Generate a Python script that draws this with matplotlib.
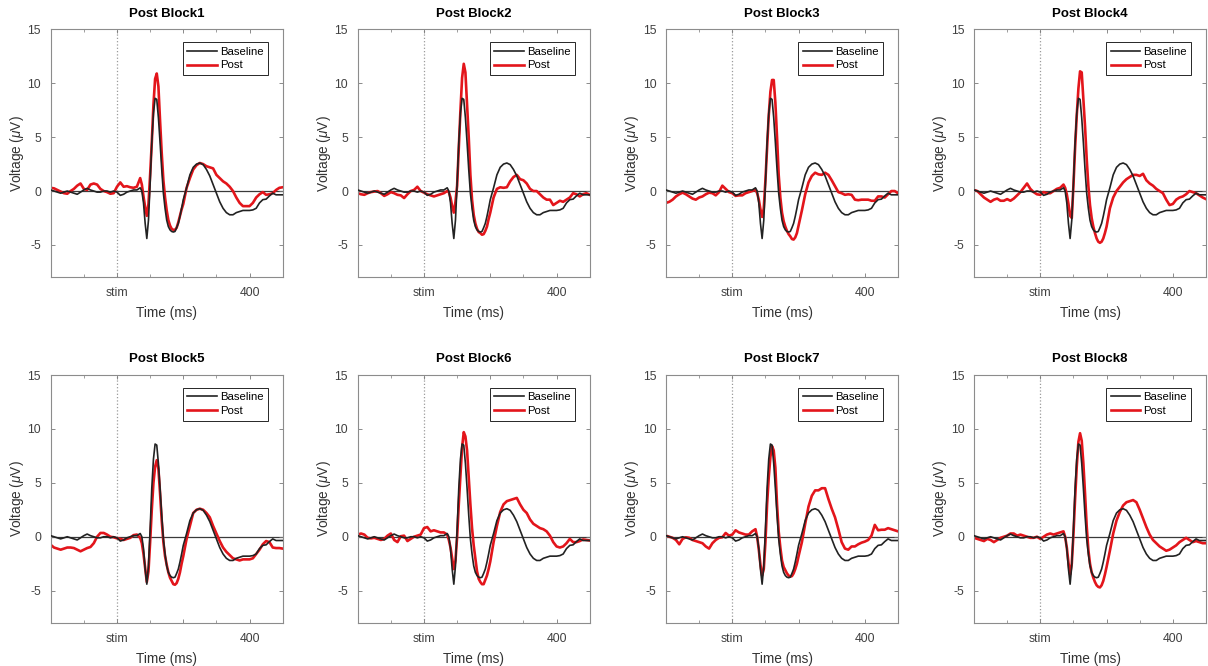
import numpy as np
from matplotlib import pyplot as plt
from matplotlib.ticker import FixedLocator, MultipleLocator

plt.rcParams['font.family'] = ['Liberation Sans', 'DejaVu Sans']
plt.rcParams['mathtext.fontset'] = 'custom'
plt.rcParams['mathtext.rm'] = 'Liberation Sans'
plt.rcParams['mathtext.it'] = 'Liberation Sans:italic'
plt.rcParams['axes.unicode_minus'] = False

# time grid (ms): 10 ms steps, 5 ms steps around the main response
time_ms = np.concatenate([np.arange(-200, 71, 10), np.arange(75, 196, 5), np.arange(200, 501, 10)])

baseline = [
    0.1, 0.0, -0.1, -0.2, -0.1, 0.0, -0.1, -0.2, -0.3, -0.1, 0.1, 0.25, 0.1, 0.0,
    -0.1, -0.1, 0.0, 0.0, -0.1, 0.0, -0.1, -0.4, -0.3, -0.1, 0.0, 0.1, 0.1, 0.3,
    0.0, -1.1, -3.0, -4.4, -2.7, 0.7, 4.5, 7.2, 8.6, 8.5, 6.8, 4.5, 2.0, -0.2,
    -1.6, -2.7, -3.3, -3.6, -3.75, -3.8, -3.75, -3.4, -3.0, -2.35, -1.6,
    -0.8, 0.3, 1.5, 2.2, 2.5, 2.6, 2.45, 2.0, 1.4, 0.6, -0.2, -1.0, -1.6, -2.0,
    -2.2, -2.2, -2.0, -1.9, -1.8, -1.8, -1.8, -1.75, -1.6, -1.1, -0.8, -0.75,
    -0.45, -0.2, -0.35, -0.35, -0.35,
]

post_block1 = [
    0.3, 0.25, 0.1, -0.05, -0.2, -0.25, 0.0, 0.2, 0.5, 0.7, 0.2, 0.1, 0.6, 0.7,
    0.6, 0.2, 0.0, -0.1, -0.25, -0.2, 0.4, 0.8, 0.4, 0.45, 0.35, 0.3, 0.4, 1.2,
    0.6, -0.5, -1.5, -2.3, -1.2, 1.5, 4.5, 8.0, 10.4, 10.9, 9.7, 6.5, 3.5, 1.0,
    -0.6, -1.8, -2.7, -3.2, -3.5, -3.6, -3.6, -3.4, -2.9, -2.3, -1.7,
    -1.2, 0.3, 1.2, 2.0, 2.4, 2.6, 2.5, 2.3, 2.2, 2.1, 1.5, 1.2, 0.9, 0.7,
    0.4, 0.0, -0.6, -1.1, -1.4, -1.4, -1.4, -1.1, -0.6, -0.3, -0.1, -0.35,
    -0.3, -0.2, 0.1, 0.3, 0.35,
]

post_block2 = [
    -0.2, -0.3, -0.35, -0.2, -0.1, -0.05, 0.0, -0.2, -0.45, -0.3, -0.1, -0.2, -0.35, -0.4,
    -0.65, -0.3, 0.0, 0.1, 0.4, 0.0, -0.15, -0.3, -0.4, -0.5, -0.4, -0.3, -0.2, 0.0,
    -0.1, -0.6, -1.4, -2.0, -1.0, 0.5, 4.0, 7.5, 10.5, 11.8, 11.0, 8.0, 5.0, 1.5,
    -0.8, -2.2, -3.0, -3.5, -3.8, -3.9, -4.05, -4.0, -3.7, -3.3, -2.6,
    -2.0, -0.6, 0.2, 0.35, 0.3, 0.35, 0.9, 1.3, 1.5, 1.1, 1.0, 0.7, 0.2, 0.0,
    0.0, -0.3, -0.6, -0.8, -0.8, -1.3, -1.1, -0.9, -1.0, -0.8, -0.6, -0.2,
    -0.3, -0.5, -0.3, -0.2, -0.35,
]

post_block3 = [
    -1.1, -1.0, -0.8, -0.5, -0.3, -0.15, -0.3, -0.5, -0.7, -0.8, -0.6, -0.5, -0.3, -0.15,
    -0.2, -0.4, -0.1, 0.5, 0.2, -0.1, -0.2, -0.45, -0.4, -0.4, -0.2, -0.1, 0.0, 0.15,
    -0.2, -0.8, -1.7, -2.4, -1.6, 1.0, 4.0, 7.0, 9.2, 10.3, 10.3, 8.2, 5.0, 1.5,
    -0.6, -2.0, -2.8, -3.3, -3.7, -4.0, -4.2, -4.45, -4.5, -4.3, -3.9,
    -3.2, -1.8, -0.3, 0.8, 1.4, 1.7, 1.55, 1.5, 1.7, 1.5, 1.0, 0.45, -0.1, -0.2,
    -0.35, -0.3, -0.35, -0.8, -0.85, -0.8, -0.8, -0.8, -0.9, -0.9, -0.5, -0.5,
    -0.6, -0.3, 0.0, 0.0, -0.2,
]

post_block4 = [
    0.1, 0.0, -0.3, -0.6, -0.8, -1.0, -0.8, -0.7, -0.9, -0.9, -0.75, -0.9, -0.7, -0.4,
    -0.1, 0.3, 0.7, 0.2, -0.1, -0.3, -0.35, -0.1, -0.2, -0.2, 0.0, 0.2, 0.3, 0.6,
    0.3, -0.3, -1.2, -2.3, -2.5, 0.5, 4.0, 7.0, 9.5, 11.1, 11.0, 8.5, 6.0, 3.0,
    0.5, -1.3, -2.5, -3.3, -3.9, -4.4, -4.7, -4.8, -4.7, -4.4, -3.9,
    -3.3, -1.6, -0.6, 0.0, 0.4, 0.8, 1.1, 1.3, 1.5, 1.5, 1.4, 1.6, 1.0, 0.7,
    0.5, 0.2, 0.0, -0.2, -0.8, -1.3, -1.2, -0.8, -0.6, -0.5, -0.3, 0.0,
    -0.1, -0.2, -0.4, -0.6, -0.75,
]

post_block5 = [
    -0.75, -1.0, -1.1, -1.2, -1.1, -1.0, -1.0, -1.05, -1.2, -1.35, -1.2, -1.05, -0.95, -0.6,
    0.0, 0.35, 0.35, 0.2, 0.0, -0.05, -0.15, -0.2, -0.3, -0.2, -0.1, 0.15, 0.2, -0.1,
    -0.6, -1.6, -2.9, -4.2, -3.2, -0.5, 2.5, 5.0, 6.5, 7.1, 6.3, 4.0, 1.5, -0.5,
    -1.8, -2.6, -3.3, -3.8, -4.1, -4.4, -4.45, -4.3, -3.9, -3.3, -2.5,
    -1.8, -0.2, 1.0, 2.2, 2.5, 2.6, 2.5, 2.2, 1.8, 1.0, 0.3, -0.4, -1.0, -1.4,
    -1.7, -2.0, -2.1, -2.2, -2.1, -2.1, -2.1, -2.0, -1.6, -1.2, -0.7, -0.4,
    -0.5, -1.0, -1.05, -1.05, -1.1,
]

post_block6 = [
    0.2, 0.3, 0.2, -0.1, -0.15, -0.1, -0.2, -0.3, -0.2, 0.1, 0.3, -0.3, -0.5, 0.05,
    0.1, -0.4, -0.2, 0.0, 0.1, 0.2, 0.8, 0.9, 0.5, 0.6, 0.5, 0.4, 0.4, 0.2,
    -0.3, -1.0, -2.0, -3.0, -2.2, 0.0, 3.0, 5.7, 8.3, 9.7, 9.3, 8.0, 5.5, 3.0,
    0.8, -0.8, -2.0, -3.2, -3.9, -4.2, -4.4, -4.4, -4.0, -3.6, -3.0,
    -2.3, -0.5, 1.0, 2.3, 3.0, 3.3, 3.4, 3.5, 3.6, 3.0, 2.5, 2.2, 1.6, 1.2,
    1.0, 0.8, 0.7, 0.5, 0.1, -0.5, -0.9, -1.0, -0.9, -0.6, -0.2, -0.5,
    -0.5, -0.4, -0.25, -0.3, -0.35,
]

post_block7 = [
    0.1, 0.0, -0.1, -0.3, -0.7, -0.2, -0.05, -0.1, -0.3, -0.4, -0.5, -0.6, -0.9, -1.1,
    -0.6, -0.3, -0.1, -0.05, 0.35, 0.1, 0.2, 0.6, 0.4, 0.3, 0.2, 0.2, 0.5, 0.7,
    0.0, -1.2, -2.6, -3.6, -3.0, -0.5, 3.0, 5.5, 7.4, 8.4, 8.0, 6.4, 3.0, 0.5,
    -1.0, -2.2, -2.8, -3.1, -3.4, -3.6, -3.7, -3.65, -3.4, -3.0, -2.5,
    -1.8, -0.5, 1.2, 2.8, 3.8, 4.3, 4.3, 4.5, 4.5, 3.5, 2.6, 1.8, 0.7, -0.5,
    -1.1, -1.2, -0.9, -0.9, -0.7, -0.55, -0.45, -0.3, 0.1, 1.1, 0.6, 0.65,
    0.65, 0.8, 0.7, 0.6, 0.5,
]

post_block8 = [
    -0.1, -0.2, -0.3, -0.4, -0.2, -0.3, -0.5, -0.3, -0.1, 0.0, 0.1, 0.3, 0.3, 0.1,
    0.2, 0.1, 0.0, -0.1, -0.1, 0.0, -0.2, 0.0, 0.2, 0.3, 0.2, 0.3, 0.4, 0.5,
    0.0, -1.0, -2.4, -3.5, -2.5, 0.2, 3.5, 6.5, 8.8, 9.6, 8.9, 6.8, 4.0, 1.0,
    -1.2, -2.5, -3.3, -3.8, -4.2, -4.5, -4.65, -4.7, -4.5, -4.1, -3.5,
    -2.8, -1.3, 0.3, 1.5, 2.3, 2.9, 3.2, 3.3, 3.4, 3.2, 2.5, 1.7, 0.9, 0.2,
    -0.3, -0.6, -0.9, -1.1, -1.3, -1.2, -1.0, -0.8, -0.5, -0.3, -0.1, -0.3,
    -0.5, -0.4, -0.5, -0.6, -0.6,
]

post_blocks = [post_block1, post_block2, post_block3, post_block4,
               post_block5, post_block6, post_block7, post_block8]
titles = ["Post Block%d" % (i + 1) for i in range(8)]

xtick_pos = [-200, 0, 200, 400]
xtick_labels = ["", "stim", "", "400"]
ytick_pos = [-5, 0, 5, 10, 15]

col_left = [50.7, 357.7, 666, 974]
row_top = [29.3, 375]
ax_w, ax_h = 232, 248
W, H = 1208, 666

fig = plt.figure(figsize=(W / 100, H / 100), dpi=100)

for i, post in enumerate(post_blocks):
    r, c = divmod(i, 4)
    ax = fig.add_axes([col_left[c] / W, (H - row_top[r] - ax_h) / H, ax_w / W, ax_h / H])

    ax.axhline(0, color="#3a3a3a", lw=0.9, zorder=1)
    ax.axvline(0, color="#9a9a9a", lw=0.9, ls=":", zorder=1)
    ax.plot(time_ms, baseline, color="#222222", lw=1.2, label="Baseline", zorder=3)
    ax.plot(time_ms, post, color="#e3151b", lw=1.9, label="Post", zorder=2)

    ax.set_xlim(-200, 500)
    ax.set_ylim(-8, 15)
    ax.xaxis.set_major_locator(FixedLocator(xtick_pos))
    ax.set_xticklabels(xtick_labels)
    ax.xaxis.set_minor_locator(MultipleLocator(100))
    ax.set_yticks(ytick_pos)
    ax.tick_params(which="both", direction="in", top=True, right=True,
                   color="#777777", labelsize=8.8, labelcolor="#404040", pad=7)
    ax.tick_params(which="major", length=3, width=0.6)
    ax.tick_params(which="minor", length=2, width=0.5)
    for sp in ax.spines.values():
        sp.set_color("#8c8c8c")
        sp.set_linewidth(0.8)

    ax.set_title(titles[i], fontsize=9.5, fontweight="bold", pad=9)
    ax.set_xlabel("Time (ms)", fontsize=9.8, color="#333333", labelpad=5)
    ax.set_ylabel(r"Voltage ($\mu$V)", fontsize=9.8, color="#333333", labelpad=1)

    leg = ax.legend(loc="upper right", bbox_to_anchor=(0.937, 0.949), borderaxespad=0,
                    fontsize=8.2, fancybox=False, framealpha=1, edgecolor="#262626",
                    handlelength=2.6, handletextpad=0.25, borderpad=0.4,
                    labelspacing=0.35)
    leg.get_frame().set_linewidth(0.7)

fig.savefig("out.png", dpi=100)
